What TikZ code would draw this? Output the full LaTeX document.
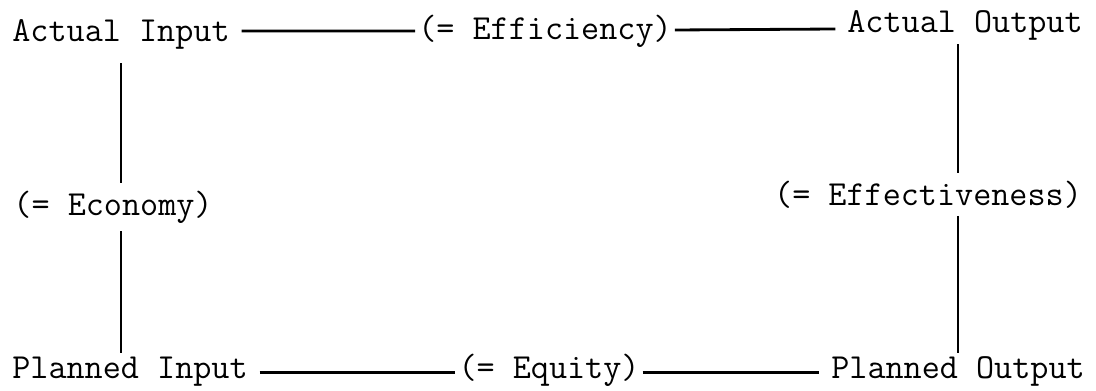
\documentclass[tikz,border=0pt]{standalone}
\usetikzlibrary{positioning}

\begin{document}
\begin{tikzpicture}[
      term/.style={inner sep=0pt, outer xsep=0.3cm, outer ysep=0.08cm, anchor=base, font=\ttfamily\fontsize{25}{30}\selectfont},
      lbl/.style={inner sep=0pt, outer xsep=0.08cm, outer ysep=0.2cm, anchor=base, font=\ttfamily\fontsize{25}{30}\selectfont},
      ln/.style={line width=2pt}
    ]
      \useasboundingbox (0,0) rectangle (27.4,9.75);
      \node[term] (ain)  at (3.025,8.70)  {Actual Input};
      \node[lbl]  (effi) at (13.625,8.75) {(= Efficiency)};
      \node[term] (aout) at (24.125,8.925) {Actual Output};
      \node[lbl]  (econ) at (2.825,4.375) {(= Economy)};
      \node[lbl]  (effe) at (23.2,4.625)  {(= Effectiveness)};
      \node[term] (pin)  at (3.25,0.30)   {Planned Input};
      \node[lbl]  (equi) at (13.725,0.30) {(= Equity)};
      \node[term] (pout) at (23.95,0.30)  {Planned Output};
      \draw[ln] ([yshift=0.275cm]ain.base east) -- ([yshift=0.225cm]effi.base west);
      \draw[ln] ([yshift=0.25cm]effi.base east) -- ([yshift=0.1cm]aout.base west);
      \draw[ln] ([yshift=0.13cm]pin.base east) -- ([yshift=0.13cm]equi.base west);
      \draw[ln] ([yshift=0.13cm]equi.base east) -- ([yshift=0.13cm]pout.base west);
      % vertical links
      \draw[ln] ([yshift=-0.25cm]ain.south) -- (ain.south |- econ.north);
      \draw[ln] (ain.south |- econ.south) -- (ain.south |- pin.north);
      \draw[ln] (pout.north |- aout.south) -- (pout.north |- effe.north);
      \draw[ln] (pout.north |- effe.south) -- (pout.north);
    \end{tikzpicture}
\end{document}
